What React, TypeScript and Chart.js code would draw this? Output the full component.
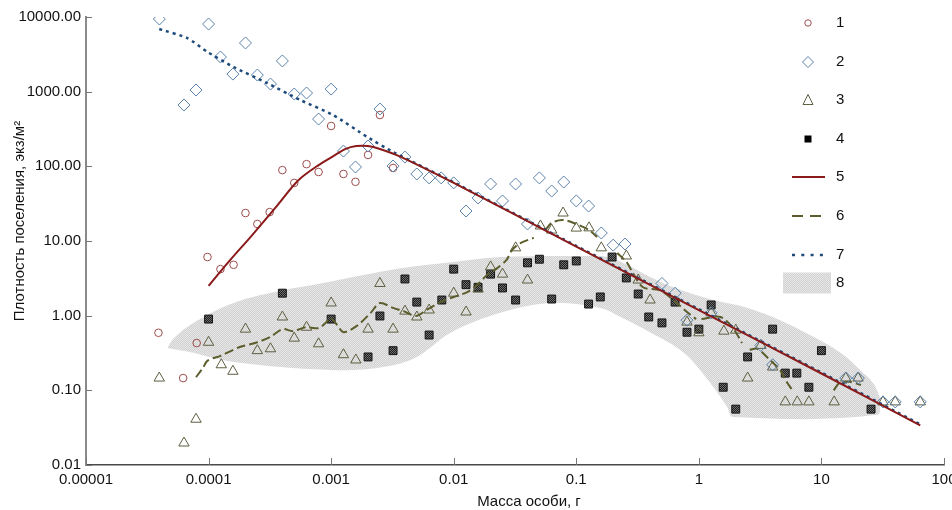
import React, { useEffect, useRef } from 'react';
import { Chart, registerables } from 'chart.js';

Chart.register(...registerables);

// ---------- axis ticks ----------
const xTicks = [1e-5, 1e-4, 1e-3, 1e-2, 1e-1, 1, 10, 100];
const xTickLabels = ['0.00001', '0.0001', '0.001', '0.01', '0.1', '1', '10', '100'];
const yTicks = [0.01, 0.1, 1, 10, 100, 1000, 10000];
const yTickLabels = ['0.01', '0.10', '1.00', '10.00', '100.00', '1000.00', '10000.00'];

const xTitle = 'Масса особи, г';
const yTitle = 'Плотность поселения, экз/м²';
const legendLabels = ['1', '2', '3', '4', '5', '6', '7', '8'];

// ---------- series 1 (circles) ----------
const s1X = [3.9e-5, 6.2e-5, 8e-5, 9.8e-5, 1.25e-4, 1.6e-4, 2.0e-4, 2.5e-4, 3.15e-4, 4e-4, 5e-4, 6.3e-4, 7.9e-4, 1e-3, 1.26e-3, 1.58e-3, 2.0e-3, 2.5e-3, 3.2e-3];
const s1Y = [0.59, 0.146, 0.43, 6.1, 4.2, 4.8, 23.7, 16.9, 24.4, 89, 60, 107, 84, 347, 79, 62, 142, 487, 95];

// ---------- series 2 (diamonds) ----------
const s2X = [3.97e-5, 6.3e-5, 7.9e-5, 1e-4, 1.25e-4, 1.58e-4, 2e-4, 2.5e-4, 3.2e-4, 4e-4, 5e-4, 6.3e-4, 7.9e-4, 1e-3, 1.26e-3, 1.58e-3, 2e-3, 2.5e-3, 3.2e-3, 4e-3, 5e-3, 6.3e-3, 7.9e-3, 1e-2, 1.26e-2, 1.58e-2, 2e-2, 2.5e-2, 3.2e-2, 4e-2, 5e-2, 6.3e-2, 7.9e-2, 0.1, 0.126, 0.16, 0.2, 0.25, 0.5, 0.64, 0.8, 1.26, 3.2, 4.0, 15.8, 20, 31.8, 40, 64];
const s2Y = [9400, 662, 1052, 8050, 2910, 1720, 4490, 1670, 1265, 2580, 931, 960, 430, 1083, 160, 98, 187, 586, 101, 133, 79, 70, 70, 60, 25.2, 37.7, 58, 34.4, 58, 16.9, 70, 46.7, 61.6, 34.4, 29.4, 12.8, 8.8, 9.1, 2.7, 2.0, 0.87, 1.09, 0.40, 0.22, 0.146, 0.146, 0.07, 0.07, 0.07];

// ---------- series 3 (triangles) ----------
const s3X = [3.96e-5, 6.3e-5, 7.9e-5, 1e-4, 1.27e-4, 1.58e-4, 2e-4, 2.5e-4, 3.2e-4, 4e-4, 5e-4, 6.3e-4, 7.9e-4, 1e-3, 1.26e-3, 1.59e-3, 2e-3, 2.5e-3, 3.2e-3, 4e-3, 5e-3, 6.3e-3, 1e-2, 1.26e-2, 1.58e-2, 2e-2, 2.5e-2, 3.2e-2, 4e-2, 5.1e-2, 6.3e-2, 7.8e-2, 0.1, 0.127, 0.16, 0.256, 0.32, 0.4, 0.8, 1.0, 1.26, 1.6, 2.0, 2.5, 3.2, 4.0, 5.07, 6.35, 7.9, 12.7, 15.8, 19.9, 31.8, 40, 64];
const s3Y = [0.146, 0.0197, 0.041, 0.44, 0.22, 0.18, 0.66, 0.34, 0.36, 0.96, 0.50, 0.70, 0.42, 1.48, 0.30, 0.255, 0.66, 2.7, 0.66, 1.15, 0.96, 1.19, 2.0, 1.12, 2.27, 4.5, 3.6, 8.1, 3.0, 15.9, 14, 23.7, 14.9, 15, 8.1, 6.3, 3.0, 1.62, 0.82, 0.59, 1.09, 0.62, 0.64, 0.146, 0.40, 0.205, 0.07, 0.07, 0.07, 0.07, 0.146, 0.146, 0.07, 0.07, 0.07];

// ---------- series 4 (squares) ----------
const s4X = [1e-4, 4e-4, 1e-3, 2e-3, 2.5e-3, 3.2e-3, 4e-3, 5e-3, 6.3e-3, 8e-3, 1e-2, 1.26e-2, 1.58e-2, 2e-2, 2.5e-2, 3.2e-2, 4e-2, 5e-2, 6.3e-2, 7.9e-2, 0.1, 0.126, 0.157, 0.196, 0.256, 0.32, 0.39, 0.5, 0.64, 0.8, 1.0, 1.26, 1.58, 2.0, 2.5, 4.0, 5.07, 6.3, 7.9, 10, 25.4];
const s4Y = [0.90, 2.0, 0.90, 0.28, 0.99, 0.34, 3.1, 1.52, 0.55, 1.62, 4.2, 2.6, 2.4, 3.6, 2.35, 1.62, 5.1, 5.7, 1.67, 4.8, 5.4, 1.43, 1.78, 6.1, 3.2, 1.95, 0.96, 0.80, 1.52, 0.60, 0.66, 1.39, 0.11, 0.056, 0.28, 0.66, 0.17, 0.17, 0.11, 0.34, 0.056];

// ---------- line 5 (solid red) ----------
const l5X = [1e-4, 1.45e-4, 2.27e-4, 3.5e-4, 5.4e-4, 7.9e-4, 1.08e-3, 1.3e-3, 1.6e-3, 2e-3, 2.5e-3, 3.66e-3, 0.01, 0.1, 1, 10, 64];
const l5Y = [2.5, 5.2, 12, 27.7, 65, 104, 142, 170, 187, 187, 171, 135, 60, 8.4, 1.19, 0.168, 0.034];

// ---------- line 6 (dashed olive, with gaps) ----------
const l6X = [7.9e-5, 9e-5, 9.8e-5, 1.25e-4, 1.8e-4, 2.5e-4, 3.2e-4, 4e-4, 4.9e-4, 6.2e-4, 7.9e-4, 9e-4, 9.9e-4, 1.12e-3, 1.26e-3, 1.62e-3, 2.1e-3, 2.5e-3, 3.2e-3, 3.9e-3, 4.9e-3, 6e-3, 7.8e-3, 1e-2, 1.29e-2, 1.55e-2, 1.87e-2, 2.25e-2, 2.7e-2, 3.0e-2, 3.5e-2, 4.5e-2, 5e-2, 5.6e-2, 6.3e-2, 7.8e-2, 0.1, 0.127, 0.148, 0.18, 0.216, 0.26, 0.29, 0.35, 0.48, 0.62, 0.8, 0.95, 1.0, 1.05, 1.5, 1.9, 2.25, 2.4, 2.6, 3.0, 3.8, 4.6, 5.2, 5.8, 8, 12.6, 14, 17, 21];
const l6Y = [0.15, 0.2, 0.25, 0.29, 0.38, 0.44, 0.52, 0.66, 0.62, 0.70, 0.68, 0.80, 0.93, 0.75, 0.60, 0.73, 1.09, 1.48, 1.27, 1.15, 0.99, 1.19, 1.52, 1.78, 2.07, 2.58, 3.5, 4.3, 5.6, 7.6, 9.4, 11, null, 14, 17.5, 19.1, 16.9, 14, 11.3, null, 6.9, 5.1, 3.7, 2.4, 2.2, 1.62, 1.12, 0.9, null, 0.9, 0.96, 0.68, 0.43, null, 0.35, 0.36, 0.255, 0.187, 0.13, 0.10, null, 0.10, 0.125, 0.13, 0.118];

// ---------- line 7 (dotted blue) ----------
const l7X = [3.96e-5, 6.7e-5, 9.8e-5, 1.6e-4, 3e-4, 5.6e-4, 1.04e-3, 1.97e-3, 3.2e-3, 0.01, 0.1, 1, 10, 64];
const l7Y = [6900, 5230, 3400, 2140, 1306, 773, 486, 247, 156, 61, 8.6, 1.22, 0.173, 0.035];

// ---------- band 8 (gray area) ----------
const bandUpperX = [4.6e-5, 5.2e-5, 7.5e-5, 1.6e-4, 4.1e-4, 8.2e-4, 3.7e-3, 9.4e-3, 2.4e-2, 0.114, 0.18, 0.26, 0.40, 0.71, 1.31, 2.5, 4.6, 8.6, 14.2, 20.7, 26.4, 30];
const bandUpperY = [0.37, 0.50, 0.80, 1.48, 2.2, 2.7, 4.3, 5.2, 6.1, 6.3, 6.1, 4.8, 3.3, 2.2, 1.62, 1.27, 0.87, 0.52, 0.32, 0.187, 0.125, 0.081];
const bandLowerX = [4.6e-5, 6.7e-5, 1.6e-4, 1.04e-3, 2.66e-3, 5e-3, 9.4e-3, 2.4e-2, 6.1e-2, 0.157, 0.23, 0.40, 0.75, 1.24, 1.7, 1.9, 28.4, 30];
const bandLowerY = [0.37, 0.33, 0.24, 0.187, 0.205, 0.28, 0.59, 1.09, 1.48, 1.27, 0.96, 0.60, 0.32, 0.125, 0.06, 0.044, 0.047, 0.081];

const zip = (xs: number[], ys: (number | null)[]) => xs.map((x, i) => ({ x, y: ys[i] }));

const FONT = '"Liberation Sans", Arial, sans-serif';
const C_CIRCLE = '#9c4c4c';
const C_DIAMOND = '#5a82ab';
const C_TRI = '#5e5e40';
const C_L5 = '#8b1a1a';
const C_L6 = '#5c5c2c';
const C_L7 = '#1d4a7a';

function makePattern(ctx: CanvasRenderingContext2D, c1: string, c2: string) {
  const cv = document.createElement('canvas');
  cv.width = 2;
  cv.height = 2;
  const g = cv.getContext('2d')!;
  g.fillStyle = c1;
  g.fillRect(0, 0, 2, 2);
  g.fillStyle = c2;
  g.fillRect(0, 0, 1, 1);
  g.fillRect(1, 1, 1, 1);
  return ctx.createPattern(cv, 'repeat')!;
}

export default function App() {
  const ref = useRef<HTMLCanvasElement | null>(null);

  useEffect(() => {
    const canvas = ref.current!;
    const ctx0 = canvas.getContext('2d')!;
    const grayPat = makePattern(ctx0, '#d2d2d2', '#e6e6e6');
    const sqPat = makePattern(ctx0, '#1c1c1c', '#707070');

    const decor = {
      id: 'decor',
      afterDraw(chart: any) {
        const { ctx, chartArea: a, scales } = chart;
        const xs = scales.x;
        const ys = scales.y;
        ctx.save();
        // inward tick marks
        ctx.strokeStyle = '#777';
        ctx.lineWidth = 1;
        xTicks.forEach((v) => {
          const px = Math.round(xs.getPixelForValue(v)) + 0.5;
          ctx.beginPath();
          ctx.moveTo(px, a.bottom);
          ctx.lineTo(px, a.bottom - 7);
          ctx.stroke();
        });
        yTicks.forEach((v) => {
          const py = Math.round(ys.getPixelForValue(v)) + 0.5;
          ctx.beginPath();
          ctx.moveTo(a.left, py);
          ctx.lineTo(a.left + 6, py);
          ctx.stroke();
        });

        // axis titles
        ctx.fillStyle = '#111';
        ctx.font = '15px ' + FONT;
        ctx.textAlign = 'center';
        ctx.textBaseline = 'middle';
        ctx.fillText(xTitle, (a.left + a.right) / 2 + 14, a.bottom + 37);
        ctx.save();
        ctx.translate(20, (a.top + a.bottom) / 2 - 20);
        ctx.rotate(-Math.PI / 2);
        ctx.fillText(yTitle, 0, 0);
        ctx.restore();

        // legend
        const mx = a.right - 136;
        const tx = a.right - 108;
        const rows = [6, 45, 83, 122, 160, 199, 238, 266].map((v) => a.top + v);
        ctx.lineWidth = 1;
        // 1 circle
        ctx.strokeStyle = C_CIRCLE;
        ctx.beginPath();
        ctx.arc(mx, rows[0], 3.2, 0, Math.PI * 2);
        ctx.stroke();
        // 2 diamond
        ctx.strokeStyle = C_DIAMOND;
        ctx.beginPath();
        ctx.moveTo(mx, rows[1] - 5.5);
        ctx.lineTo(mx + 5.5, rows[1]);
        ctx.lineTo(mx, rows[1] + 5.5);
        ctx.lineTo(mx - 5.5, rows[1]);
        ctx.closePath();
        ctx.stroke();
        // 3 triangle
        ctx.strokeStyle = C_TRI;
        ctx.beginPath();
        ctx.moveTo(mx, rows[2] - 5.5);
        ctx.lineTo(mx + 5, rows[2] + 4.5);
        ctx.lineTo(mx - 5, rows[2] + 4.5);
        ctx.closePath();
        ctx.stroke();
        // 4 square
        ctx.fillStyle = '#000';
        ctx.fillRect(mx - 3.5, rows[3] - 3.5, 7, 7);
        // 5 solid line
        ctx.lineWidth = 2;
        ctx.strokeStyle = C_L5;
        ctx.beginPath();
        ctx.moveTo(mx - 16, rows[4]);
        ctx.lineTo(mx + 17, rows[4]);
        ctx.stroke();
        // 6 dashed line
        ctx.strokeStyle = C_L6;
        ctx.setLineDash([11, 7]);
        ctx.beginPath();
        ctx.moveTo(mx - 16, rows[5]);
        ctx.lineTo(mx + 17, rows[5]);
        ctx.stroke();
        // 7 dotted line
        ctx.strokeStyle = C_L7;
        ctx.lineWidth = 2.5;
        ctx.setLineDash([3, 6.3]);
        ctx.beginPath();
        ctx.moveTo(mx - 16, rows[6]);
        ctx.lineTo(mx + 17, rows[6]);
        ctx.stroke();
        ctx.setLineDash([]);
        // 8 band patch
        ctx.fillStyle = grayPat;
        ctx.fillRect(mx - 25, rows[7] - 10.5, 48, 21);

        ctx.fillStyle = '#111';
        ctx.font = '15px ' + FONT;
        ctx.textAlign = 'left';
        ctx.textBaseline = 'middle';
        legendLabels.forEach((t, i) => ctx.fillText(t, tx, rows[i]));
        ctx.restore();
      },
    };

    const chart = new Chart(canvas, {
      type: 'scatter',
      data: {
        datasets: [
          {
            type: 'line',
            label: '8',
            data: zip(bandUpperX, bandUpperY),
            borderColor: 'rgba(0,0,0,0)',
            borderWidth: 0,
            pointRadius: 0,
            backgroundColor: grayPat,
            fill: '+1',
            tension: 0.35,
            order: 20,
          },
          {
            type: 'line',
            label: '8b',
            data: zip(bandLowerX, bandLowerY),
            borderColor: 'rgba(0,0,0,0)',
            borderWidth: 0,
            pointRadius: 0,
            fill: false,
            tension: 0.35,
            order: 21,
          },
          {
            label: '4',
            data: zip(s4X, s4Y),
            pointStyle: 'rect',
            pointRadius: 5.6,
            backgroundColor: sqPat,
            borderColor: '#151515',
            borderWidth: 1,
            order: 12,
          },
          {
            label: '3',
            data: zip(s3X, s3Y),
            pointStyle: 'triangle',
            pointRadius: 6,
            backgroundColor: 'rgba(0,0,0,0)',
            borderColor: C_TRI,
            borderWidth: 1,
            order: 11,
          },
          {
            type: 'line',
            label: '6',
            data: zip(l6X, l6Y),
            borderColor: C_L6,
            borderWidth: 2,
            borderDash: [9, 4],
            pointRadius: 0,
            fill: false,
            spanGaps: false,
            tension: 0.3,
            order: 10,
          },
          {
            label: '1',
            data: zip(s1X, s1Y),
            pointStyle: 'circle',
            pointRadius: 3.8,
            backgroundColor: 'rgba(0,0,0,0)',
            borderColor: C_CIRCLE,
            borderWidth: 1,
            order: 9,
          },
          {
            label: '2',
            data: zip(s2X, s2Y),
            pointStyle: 'rectRot',
            pointRadius: 6,
            backgroundColor: 'rgba(0,0,0,0)',
            borderColor: C_DIAMOND,
            borderWidth: 1,
            order: 8,
          },
          {
            type: 'line',
            label: '7',
            data: zip(l7X, l7Y),
            borderColor: C_L7,
            borderWidth: 2.5,
            borderDash: [3, 4],
            pointRadius: 0,
            fill: false,
            tension: 0.2,
            order: 7,
          },
          {
            type: 'line',
            label: '5',
            data: zip(l5X, l5Y),
            borderColor: C_L5,
            borderWidth: 2,
            pointRadius: 0,
            fill: false,
            tension: 0.3,
            order: 6,
          },
        ] as any,
      },
      options: {
        responsive: false,
        animation: false,
        events: [],
        layout: { padding: { left: 0, right: 8, top: 17, bottom: 0 } },
        plugins: {
          legend: { display: false },
          tooltip: { enabled: false },
          title: { display: false },
        },
        scales: {
          x: {
            type: 'logarithmic',
            position: 'bottom',
            min: 1e-5,
            max: 100,
            afterBuildTicks: (s: any) => {
              s.ticks = xTicks.map((v) => ({ value: v }));
            },
            afterFit: (s: any) => {
              s.height = 45;
              s.paddingLeft = 0;
              s.paddingRight = 0;
            },
            grid: { display: false, drawTicks: false },
            border: { display: true, color: '#4a4a4a', width: 1.5 },
            ticks: {
              autoSkip: false,
              maxRotation: 0,
              padding: 6,
              color: '#111',
              font: { family: FONT, size: 15 },
              callback: (_v: any, i: number) => xTickLabels[i],
            },
          },
          y: {
            type: 'logarithmic',
            position: 'left',
            min: 0.01,
            max: 10000,
            afterBuildTicks: (s: any) => {
              s.ticks = yTicks.map((v) => ({ value: v }));
            },
            afterFit: (s: any) => {
              s.width = 86;
              s.paddingTop = 0;
              s.paddingBottom = 0;
            },
            grid: { display: false, drawTicks: false },
            border: { display: true, color: '#8a8a8a', width: 2 },
            ticks: {
              autoSkip: false,
              padding: 5,
              color: '#111',
              font: { family: FONT, size: 15 },
              callback: (_v: any, i: number) => yTickLabels[i],
            },
          },
        },
      } as any,
      plugins: [decor],
    });

    return () => chart.destroy();
  }, []);

  return (
    <div style={{ position: 'absolute', left: 0, top: 0, width: 952, height: 510, background: '#fff' }}>
      <canvas ref={ref} width={952} height={510} style={{ display: 'block' }} />
    </div>
  );
}
